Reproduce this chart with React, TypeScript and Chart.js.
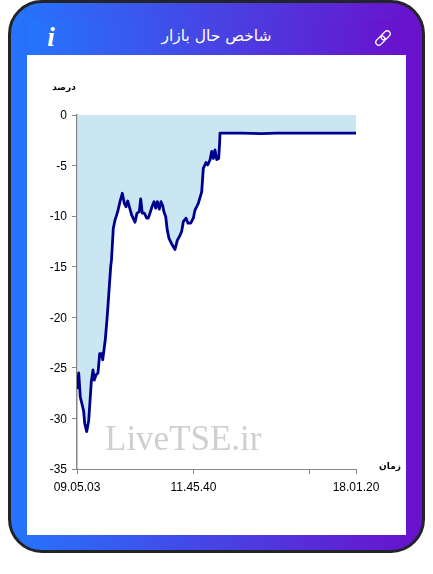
import React, { useEffect, useRef } from "react";
import { Chart, registerables } from "chart.js";

Chart.register(...registerables);

const title = "شاخص حال بازار";
const yAxisName = "درصد";
const xAxisName = "زمان";
const watermark = "LiveTSE.ir";

const sessionPosition = [0.3, 1.7, 3.3, 5.3, 6.7, 7.7, 9.7, 11.7, 14.3, 16, 17.3, 19, 21, 22.7, 24.7, 25.7, 28.3, 30.3, 33.7, 34.5, 36.3, 38, 40.7, 43, 45.3, 47.3, 49, 50.7, 52.3, 54.7, 58, 60, 62.3, 63.7, 65.3, 67.3, 69.7, 71.3, 73, 75, 77, 78.7, 80.3, 82.3, 84, 85.7, 87, 88.7, 90.3, 92, 94.7, 98, 100.3, 103, 104.7, 106.3, 109, 111, 113.7, 116.3, 118, 121.3, 124.7, 126.3, 129, 130.7, 133, 134.7, 136.3, 138, 139.7, 141.7, 142.7, 143, 165, 184, 200, 279];
const indexValues = [-27.1, -25.5, -27.9, -28.7, -29.3, -30.5, -31.3, -30.2, -26.4, -25.2, -26.2, -25.7, -25.5, -23.6, -23.6, -24.2, -22.2, -19.8, -15, -14.3, -11.2, -10.4, -9.56, -8.57, -7.74, -8.73, -9.07, -8.5, -9.07, -9.9, -10.6, -9.7, -9.56, -8.3, -9.7, -9.7, -10.2, -10.2, -9.7, -9.07, -8.57, -9.2, -8.57, -9.3, -8.57, -8.97, -9.6, -10.05, -11.4, -12.2, -12.75, -13.3, -12.4, -11.9, -11.5, -10.55, -10.2, -10.7, -10.7, -10.2, -9.4, -8.73, -7.6, -5.27, -4.7, -4.94, -4.45, -3.6, -4.3, -3.46, -4.4, -4.3, -2.6, -1.8, -1.8, -1.85, -1.8, -1.8];

const xTickPositions = [0, 116.5, 232, 279];
const xTickLabels = ["09.05.03", "11.45.40", "", "18.01.20"];
const yTicks = [0, -5, -10, -15, -20, -25, -30, -35];

const AXIS = "#868686";
const FONT = "'Liberation Sans', Arial, sans-serif";

const axisNames = {
  id: "axisNames",
  afterDraw(chart: any) {
    const { ctx } = chart;
    ctx.save();
    ctx.fillStyle = "#000";
    ctx.font = "bold 9px 'DejaVu Sans'";
    ctx.textAlign = "center";
    ctx.textBaseline = "middle";
    ctx.fillText(yAxisName, 37, 33);
    ctx.fillText(xAxisName, 363, 412);
    ctx.restore();
  },
};

export default function App() {
  const ref = useRef<HTMLCanvasElement>(null);
  useEffect(() => {
    const chart = new Chart(ref.current!, {
      type: "line",
      data: {
        datasets: [
          {
            data: sessionPosition.map((x, i) => ({ x, y: indexValues[i] })),
            borderColor: "#00008f",
            borderWidth: 2.8,
            borderJoinStyle: "round",
            backgroundColor: "#cae7f1",
            fill: "origin",
            pointRadius: 0,
            tension: 0,
          },
        ],
      },
      options: {
        animation: false,
        responsive: false,
        events: [],
        layout: { padding: { top: 60, right: 50, left: 0, bottom: 0 } },
        plugins: { legend: { display: false }, tooltip: { enabled: false } },
        scales: {
          x: {
            type: "linear",
            min: 0,
            max: 279,
            afterBuildTicks: (s: any) => {
              s.ticks = xTickPositions.map((value) => ({ value }));
            },
            afterFit: (s: any) => {
              s.height = 66;
            },
            border: { color: AXIS },
            grid: { drawOnChartArea: false, color: AXIS, tickLength: 5 },
            ticks: {
              autoSkip: false,
              maxRotation: 0,
              color: "#000",
              padding: 6,
              font: { family: FONT, size: 12 },
              callback: (v: any) => xTickLabels[xTickPositions.indexOf(Number(v))] ?? "",
            },
          },
          y: {
            type: "linear",
            min: -35,
            max: 0,
            afterBuildTicks: (s: any) => {
              s.ticks = yTicks.map((value) => ({ value }));
            },
            afterFit: (s: any) => {
              s.width = 50;
            },
            border: { color: AXIS, width: 1.5 },
            grid: { drawOnChartArea: false, color: AXIS, tickLength: 5 },
            ticks: {
              color: "#000",
              padding: 5,
              labelOffset: 1,
              font: { family: FONT, size: 12 },
            },
          },
        },
      },
      plugins: [axisNames],
    } as any);
    return () => chart.destroy();
  }, []);

  const grad = "linear-gradient(to right, #2575fc, #6a11cb)";
  return (
    <div style={{ position: "fixed", inset: 0, background: "#fff" }}>
      <div
        style={{
          position: "absolute",
          left: 8,
          top: 0,
          width: 417,
          height: 553,
          boxSizing: "border-box",
          border: "3px solid #212529",
          borderRadius: 34,
          background: grad,
        }}
      />
      <div style={{ position: "absolute", left: 27, top: 19, width: 379, height: 36, background: grad }} />
      <div
        dir="rtl"
        style={{
          position: "absolute",
          left: 27,
          top: 23,
          width: 379,
          textAlign: "center",
          color: "#fff",
          font: "15.5px 'DejaVu Sans'",
          lineHeight: "26px",
        }}
      >
        {title}
      </div>
      <div
        style={{
          position: "absolute",
          left: 44,
          top: 21,
          width: 14,
          textAlign: "center",
          color: "#fff",
          font: "italic bold 27px 'Liberation Serif'",
          lineHeight: "32px",
        }}
      >
        i
      </div>
      <svg style={{ position: "absolute", left: 373, top: 28 }} width="20" height="20" viewBox="0 0 20 20">
        <g fill="none" stroke="#fff" strokeWidth="1.3" transform="rotate(45 10 10)">
          <rect x="7" y="1" width="6" height="10.5" rx="3" />
          <rect x="7" y="8.5" width="6" height="10.5" rx="3" />
        </g>
      </svg>
      <div style={{ position: "absolute", left: 27, top: 55, width: 379, height: 480, background: "#fff" }}>
        <canvas ref={ref} width={379} height={480} style={{ display: "block" }} />
        <div
          style={{
            position: "absolute",
            left: 78,
            top: 362,
            color: "#d0cece",
            font: "35px 'Liberation Serif'",
            lineHeight: "44px",
            whiteSpace: "nowrap",
          }}
        >
          {watermark}
        </div>
      </div>
    </div>
  );
}
